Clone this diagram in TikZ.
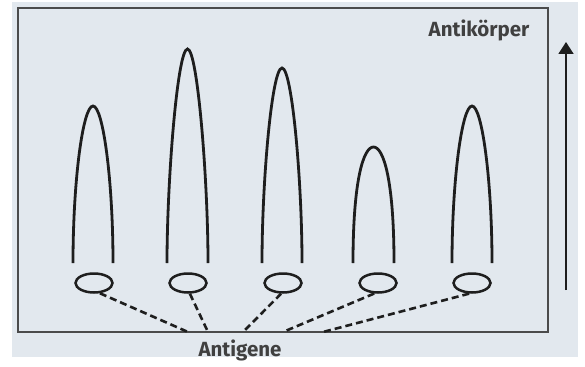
\documentclass[tikz,border=0pt]{standalone}
\usepackage{fontspec}
\setmainfont{Fira Sans}
\usetikzlibrary{shapes.geometric,arrows.meta}
\definecolor{bgc}{HTML}{E2E8EE}
\definecolor{ink}{HTML}{1E1E1E}
\tikzset{
  arch/.style={draw=ink,line width=2.8pt},
  antigen/.style={ellipse,draw=ink,line width=2.5pt,minimum width=37pt,minimum height=19pt,inner sep=0pt},
  link/.style={draw=ink,line width=2.6pt,dash pattern=on 7pt off 4pt},
  lbl/.style={font=\fontsize{20.5}{20.5}\selectfont\bfseries,text=ink!85!white,inner sep=0pt}
}
\begin{document}
\begin{tikzpicture}[x=1pt,y=-1pt]
\useasboundingbox (0,0) rectangle (585,366);
\fill[white] (0,0) rectangle (585,366);
\fill[bgc] (12,2) rectangle (578,357);
\draw[ink!80!white,line width=2.3pt] (18,8) rectangle (548,332);
% antibodies
\foreach \l/\r/\t in {73/113/106, 167/208/49, 262/302/68, 353/394/147, 452/492/106}{
  \pgfmathsetmacro{\m}{(\l+\r)/2}
  \draw[arch] (\l,263) .. controls (\l,180) and (\m-10,\t) .. (\m,\t)
              .. controls (\m+10,\t) and (\r,180) .. (\r,263);
}
% antigens
\node[antigen] (g1) at (94,283) {};
\node[antigen] (g2) at (188,283) {};
\node[antigen] (g3) at (283,283) {};
\node[antigen] (g4) at (378,283) {};
\node[antigen] (g5) at (472,283) {};
\coordinate (b1) at (188,332);
\coordinate (b2) at (208,332);
\coordinate (b3) at (243,332);
\coordinate (b4) at (283,332);
\coordinate (b5) at (323,332);
\draw[link] (g1.-60) -- (b1);
\draw[link] (g2.-80) -- (b2);
\draw[link] (g3.-100) -- (b3);
\draw[link] (g4.-110) -- (b4);
\draw[link] (g5.-105) -- (b5);
\node[lbl] (antigene) at (240,350) {Antigene};
\node[lbl] (antik) at (479,30) {Antikörper};
% arrow
\coordinate (a0) at (566,290);
\coordinate (a1) at (566,42);
\draw[ink,line width=1.8pt,-{Triangle[length=12pt,width=15pt]}] (a0) -- (a1);
\end{tikzpicture}
\end{document}
